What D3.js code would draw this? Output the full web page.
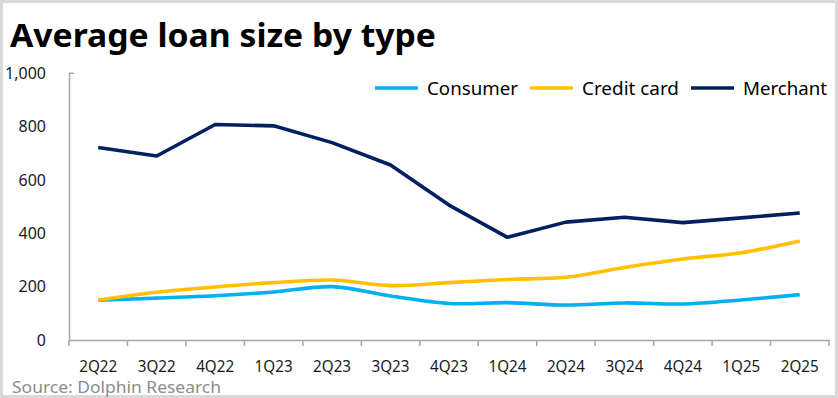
<!DOCTYPE html>
<html><head><meta charset="utf-8">
<script src="https://cdn.jsdelivr.net/npm/d3@7"></script>
<style>body{margin:0;background:#fff}svg{display:block}</style>
</head><body>
<svg id="c" width="838" height="398"></svg>
<script>
const categories = ["2Q22","3Q22","4Q22","1Q23","2Q23","3Q23","4Q23","1Q24","2Q24","3Q24","4Q24","1Q25","2Q25"];
const consumer   = [149,157,166,180,200,165,137,140,131,139,135,150,170];
const creditCard = [150,179,199,215,225,204,215,227,235,272,304,327,371];
const merchant   = [722,690,808,803,740,656,506,385,442,460,440,458,476];
const yTicks = [0,200,400,600,800,1000];
const seriesNames = ["Consumer","Credit card","Merchant"];
const colors = ["#00B0F0","#FFC000","#002060"];

const svg = d3.select("#c");
const W = 838, H = 398;
const font = "'Noto Sans', 'Open Sans', sans-serif";

svg.append("rect").attr("x",1.5).attr("y",1.5).attr("width",W-3).attr("height",H-3)
  .attr("fill","#fff").attr("stroke","#d9d9d9").attr("stroke-width",3);

const x = d3.scaleBand().domain(categories).range([69,829]);
const y = d3.scaleLinear().domain([0,1000]).range([340,73.3]);

// title
svg.append("text").attr("x",10).attr("y",47).text("Average loan size by type")
  .attr("font-family",font).attr("font-weight","bold").attr("font-size",33).attr("fill","#000")
  .attr("textLength",426).attr("lengthAdjust","spacingAndGlyphs");

// y axis
const ya = svg.append("g").attr("transform","translate(69,0)")
  .call(d3.axisLeft(y).tickValues(yTicks).tickSize(0).tickPadding(23).tickFormat(d3.format(",")));
ya.select(".domain").attr("stroke","#a6a6a6").attr("stroke-width",1.5);
ya.selectAll("text").attr("font-family",font).attr("font-size",16).attr("fill","#1a1a1a");
svg.append("line").attr("x1",69).attr("x2",74).attr("y1",y(1000)).attr("y2",y(1000))
  .attr("stroke","#a6a6a6").attr("stroke-width",1.5);

// x axis
const xa = svg.append("g").attr("transform","translate(0,340)")
  .call(d3.axisBottom(x).tickSize(0).tickPadding(21));
xa.select(".domain").attr("stroke","#a6a6a6").attr("stroke-width",1.5);
xa.selectAll("text").attr("font-family",font).attr("font-size",15.5).attr("fill","#1a1a1a")
  .attr("textLength",38).attr("lengthAdjust","spacingAndGlyphs");
const bounds = categories.map(c=>x(c)).concat([x.range()[1]]);
xa.selectAll(".bnd").data(bounds).join("line").attr("class","bnd")
  .attr("x1",d=>d).attr("x2",d=>d).attr("y1",0).attr("y2",6)
  .attr("stroke","#a6a6a6").attr("stroke-width",1.5);

// lines
const cx = c => x(c)+x.bandwidth()/2;
const data = [consumer, creditCard, merchant];
const curves = [d3.curveCatmullRom.alpha(0.5), d3.curveCatmullRom.alpha(0.5), d3.curveLinear];
data.forEach((vals,i)=>{
  const line = d3.line().x((d,j)=>cx(categories[j])).y(d=>y(d)).curve(curves[i]);
  svg.append("path").datum(vals).attr("d",line).attr("fill","none")
    .attr("stroke",colors[i]).attr("stroke-width",3.6).attr("stroke-linejoin","round");
});

// legend
const legX = [375,530,691];
const legW = [91,97,84];
seriesNames.forEach((n,i)=>{
  svg.append("line").attr("x1",legX[i]).attr("x2",legX[i]+43).attr("y1",88).attr("y2",88)
    .attr("stroke",colors[i]).attr("stroke-width",3.6);
  svg.append("text").attr("x",legX[i]+52).attr("y",94.5).text(n)
    .attr("font-family",font).attr("font-size",18).attr("fill","#000")
    .attr("textLength",legW[i]).attr("lengthAdjust","spacingAndGlyphs");
});

// source
svg.append("text").attr("x",12).attr("y",393).text("Source: Dolphin Research")
  .attr("font-family",font).attr("font-size",16).attr("fill","#8c8c8c")
  .attr("textLength",209).attr("lengthAdjust","spacingAndGlyphs");
</script>
</body></html>
